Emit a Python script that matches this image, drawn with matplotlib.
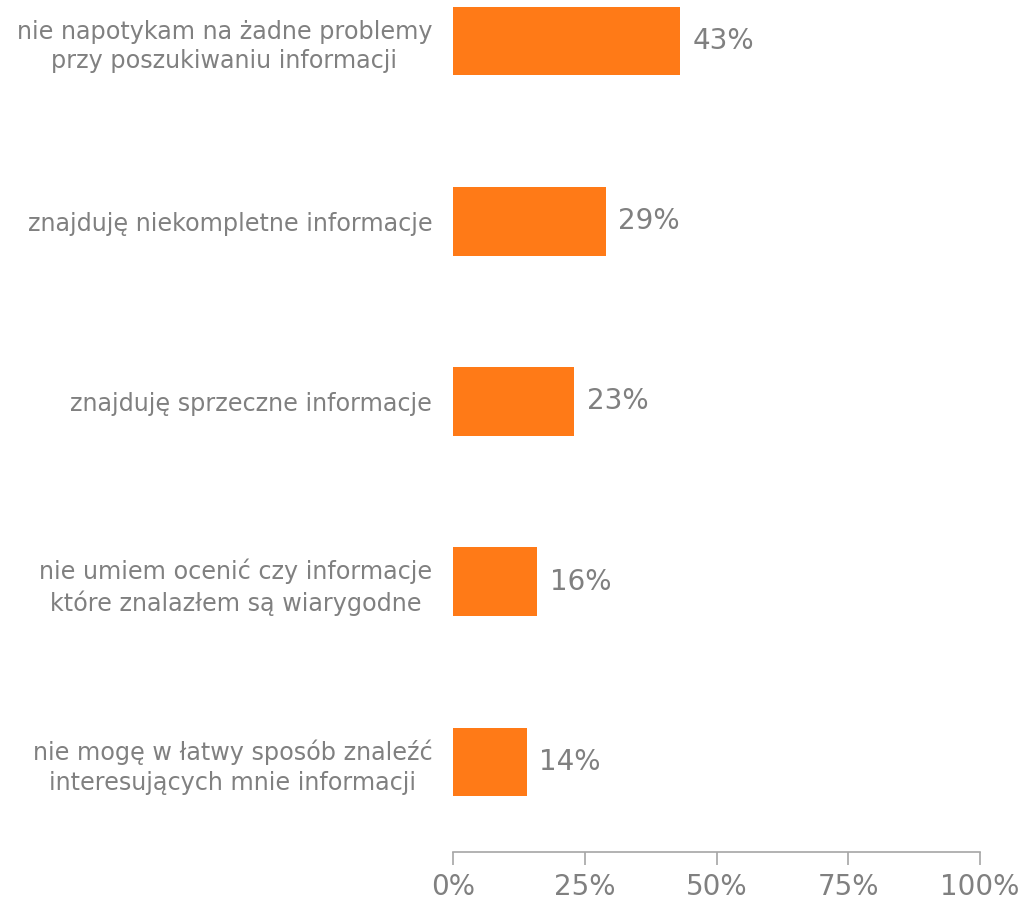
import matplotlib
matplotlib.use("Agg")
import matplotlib.pyplot as plt

categories = [
    "nie napotykam na żadne problemy\nprzy poszukiwaniu informacji",
    "znajduję niekompletne informacje",
    "znajduję sprzeczne informacje",
    "nie umiem ocenić czy informacje\nktóre znalazłem są wiarygodne",
    "nie mogę w łatwy sposób znaleźć\ninteresujących mnie informacji",
]
values = [43, 29, 23, 16, 14]
ticks = [0, 25, 50, 75, 100]

bar_color = "#FF7A17"
text_color = "#808080"
axis_color = "#A6A6A6"

plt.rcParams["font.family"] = ["DejaVu Sans"]

fig = plt.figure(figsize=(10.23, 8.99), dpi=100)
ax = fig.add_axes([453 / 1023, 47 / 899, 527 / 1023, 852 / 899])

ypos = list(range(len(values)))
ax.barh(ypos, values, height=0.38, color=bar_color)

# value labels next to bars
for y, v in zip(ypos, values):
    ax.text(v + 2.4, y, f"{v}%", va="center", ha="left", fontsize=20, color=text_color)

ax.set_xlim(0, 100)
ax.set_ylim(4.5, -0.228)
ax.set_yticks(ypos)
ax.set_yticklabels(categories, fontsize=17.2, color=text_color, linespacing=1.3)
for lbl in ax.get_yticklabels():
    lbl.set_ha("right")
    lbl.set_va("center_baseline")
    lbl.set_multialignment("center")
ax.tick_params(axis="y", length=0, pad=15)

ax.set_xticks(ticks)
ax.set_xticklabels([f"{t}%" for t in ticks], fontsize=20, color=text_color)
ax.tick_params(axis="x", length=9, width=1.2, color=axis_color, pad=6)

for side in ["top", "right", "left"]:
    ax.spines[side].set_visible(False)
ax.spines["bottom"].set_color(axis_color)
ax.spines["bottom"].set_linewidth(1.2)

fig.savefig("out.png", dpi=100)
